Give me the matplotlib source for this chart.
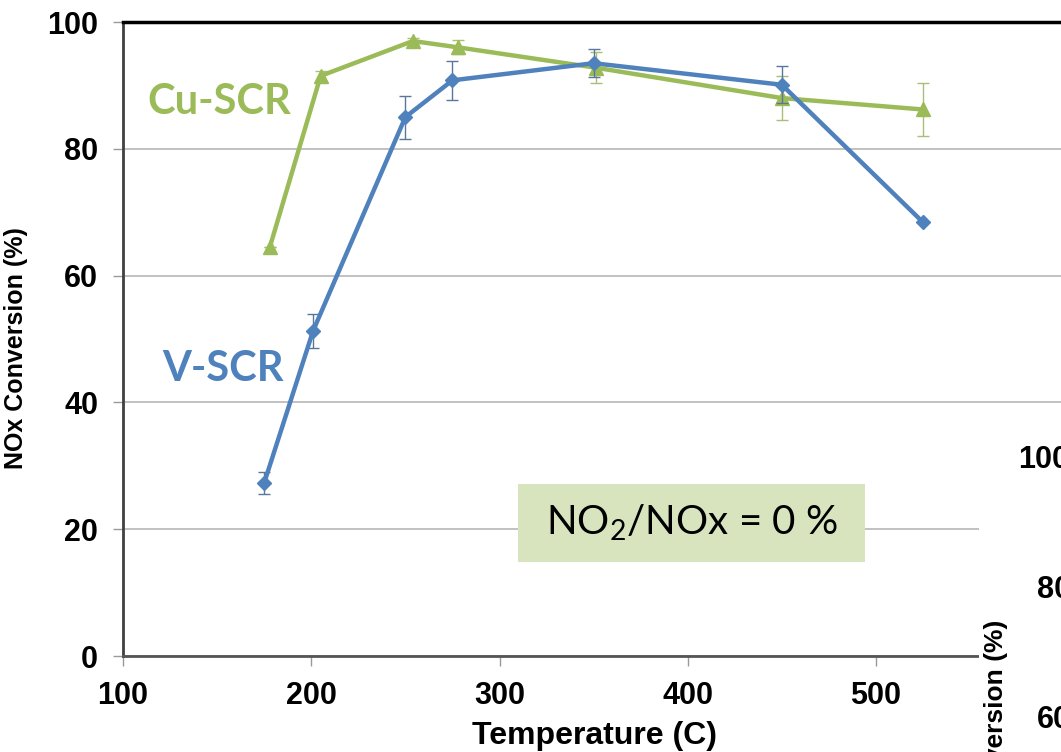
import matplotlib
matplotlib.use("Agg")
import matplotlib.pyplot as plt
from matplotlib.patches import Rectangle

# ---- data ----
v_temp = [175, 201, 250, 275, 350, 450, 525]
v_conv = [27.3, 51.3, 85.0, 90.8, 93.5, 90.1, 68.4]
v_err = [1.7, 2.7, 3.4, 3.1, 2.2, 2.9, 0.0]

cu_temp = [178, 205, 254, 278, 351, 450, 525]
cu_conv = [64.5, 91.5, 97.0, 96.0, 92.8, 88.0, 86.2]
cu_err = [0.0, 0.8, 0.5, 1.1, 2.4, 3.5, 4.2]

x_ticks = [100, 200, 300, 400, 500]
y_ticks = [0, 20, 40, 60, 80, 100]

# tick labels of the neighbouring chart that peeks in at the right edge
side_labels = ["100", "80", "60"]

BLUE = "#4f81bd"
GREEN = "#9bbb59"
BOX = "#d7e4bd"

plt.rcParams["mathtext.fontset"] = "custom"
plt.rcParams["mathtext.rm"] = "Lato"
plt.rcParams["mathtext.it"] = "Lato"

W, H = 1061, 752
fig = plt.figure(figsize=(W / 100, H / 100), dpi=100)
ax = fig.add_axes([123 / W, 1 - 656 / H, (W - 123) / W, (656 - 22) / H])

px_per = (876 - 123) / 400.0
ax.set_xlim(100, 100 + (W - 123) / px_per)
ax.set_ylim(0, 100)

ax.yaxis.grid(True, color="#bcbcbc", lw=1.3, zorder=0)
ax.set_axisbelow(True)

ax.errorbar(cu_temp, cu_conv, yerr=cu_err, color=GREEN, lw=3.2, marker="^", ms=10,
            ecolor="#a9bf78", elinewidth=1, capsize=4, capthick=1, zorder=3)
ax.errorbar(v_temp, v_conv, yerr=v_err, color=BLUE, lw=3.2, marker="D", ms=7,
            ecolor="#5a7699", elinewidth=1, capsize=4, capthick=1, zorder=4)

ax.text(151, 87.4, "Cu-SCR", color=GREEN, fontsize=30, fontweight="bold",
        family="Lato", ha="center", va="center")
ax.text(153, 45.3, "V-SCR", color=BLUE, fontsize=30, fontweight="bold",
        family="Lato", ha="center", va="center")

ax.add_patch(Rectangle((310, 14.9), 184, 12.3, facecolor=BOX, edgecolor="none", zorder=2))
ax.text(402.5, 21.0, "NO$_2$/NOx = 0 %", fontsize=29, family="Lato",
        ha="center", va="center", zorder=3)

ax.set_xticks(x_ticks)
ax.set_yticks(y_ticks)
for lab in ax.get_xticklabels() + ax.get_yticklabels():
    lab.set_fontsize(22)
    lab.set_fontweight("bold")
    lab.set_family("Liberation Sans")
ax.tick_params(axis="both", direction="out", length=7, width=1, color="#9a9a9a", pad=11)

ax.spines["right"].set_visible(False)
ax.spines["top"].set_color("black")
ax.spines["top"].set_linewidth(2.5)
ax.spines["left"].set_color("#404040")
ax.spines["left"].set_linewidth(2)
ax.spines["bottom"].set_color("#555555")
ax.spines["bottom"].set_linewidth(2)

ax.set_xlabel("Temperature (C)", fontsize=23, fontweight="bold", family="Liberation Sans")
ax.xaxis.set_label_coords((595 - 123) / (W - 123), -0.102)
ax.set_ylabel("NOx Conversion (%)", fontsize=18, fontweight="bold", family="Liberation Sans")
ax.yaxis.set_label_coords(-(123 - 28) / (W - 123), 0.485)

# neighbouring chart peeking in at the lower right of the screenshot
fig.patches.append(Rectangle((979 / W, 0), (W - 979) / W, 1 - 415 / H,
                             transform=fig.transFigure, facecolor="white",
                             edgecolor="none", zorder=5))
for lab, xpx, ypx in zip(side_labels, [1018, 1037, 1037], [460, 590, 720]):
    fig.text(xpx / W, 1 - ypx / H, lab, fontsize=22, fontweight="bold",
             family="Liberation Sans", ha="left", va="center", zorder=6)
fig.text(996 / W, 1 - 620 / H, "NOx Conversion (%)", fontsize=19, fontweight="bold",
         family="Liberation Sans", rotation=90, ha="center", va="top", zorder=6)

fig.savefig("out.png", dpi=100)
